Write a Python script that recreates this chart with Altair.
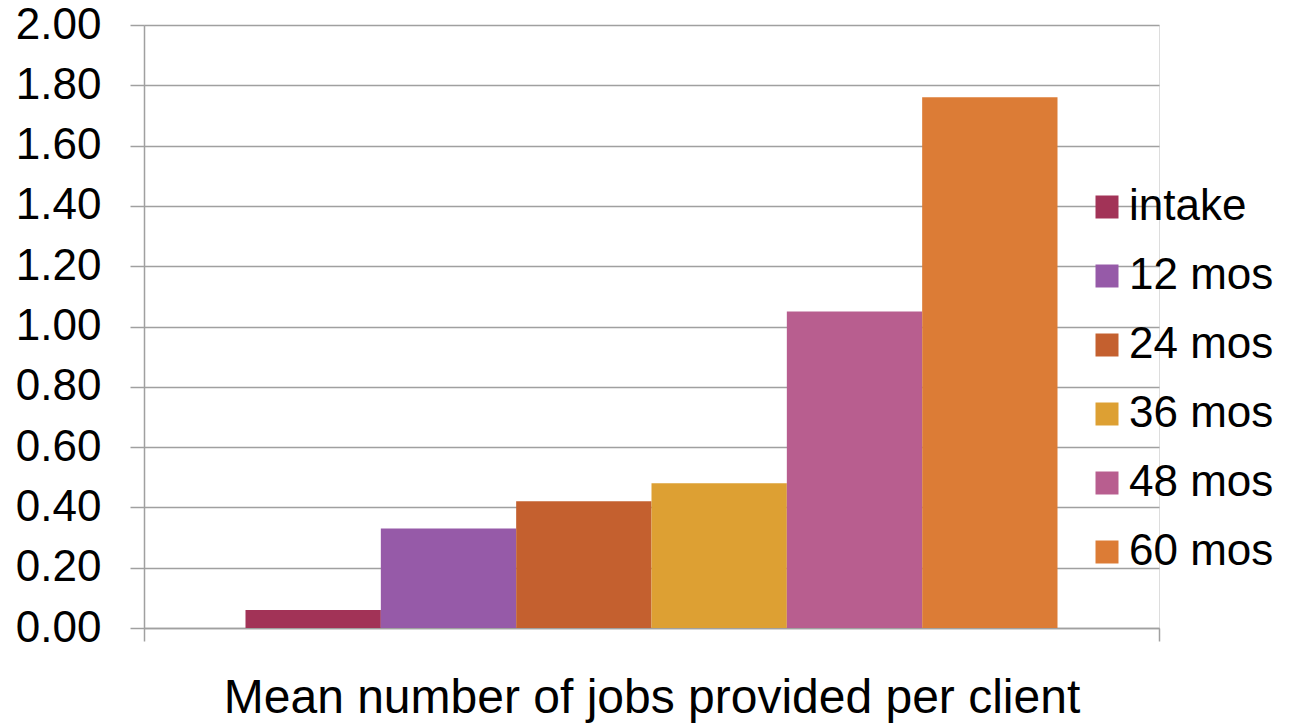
import altair as alt
import pandas as pd

series = ["intake", "12 mos", "24 mos", "36 mos", "48 mos", "60 mos"]
values = [0.06, 0.33, 0.42, 0.48, 1.05, 1.76]
colors = ["#A23357", "#965AA8", "#C4602F", "#DDA033", "#B85E8F", "#DC7C36"]
category = "Mean number of jobs provided per client"

df = pd.DataFrame({"cat": [category] * len(series), "series": series, "value": values})

FONT = "Liberation Sans"

chart = alt.Chart(df).mark_bar().encode(
    x=alt.X("cat:N", title=category,
            scale=alt.Scale(paddingInner=0, paddingOuter=0),
            axis=alt.Axis(labels=False, tickBand="extent", tickSize=13, tickColor="#A0A0A0",
                          tickWidth=1.5, domainColor="#A0A0A0", domainWidth=1.5,
                          titleFontSize=48, titleFont=FONT, titleFontWeight="normal",
                          titleColor="#000000", titlePadding=33)),
    xOffset=alt.XOffset("series:N", sort=series,
                        scale=alt.Scale(paddingInner=0, paddingOuter=0.75)),
    y=alt.Y("value:Q", title=None,
            scale=alt.Scale(domain=[0, 2]),
            axis=alt.Axis(values=[0, 0.2, 0.4, 0.6, 0.8, 1.0, 1.2, 1.4, 1.6, 1.8, 2.0],
                          format=".2f", tickSize=14, tickColor="#A0A0A0", tickWidth=1.5,
                          gridColor="#A0A0A0", gridWidth=1.5,
                          domainColor="#A0A0A0", domainWidth=1.5,
                          labelFontSize=44, labelFont=FONT, labelColor="#000000",
                          labelPadding=29)),
    color=alt.Color("series:N", sort=series, title=None,
                    scale=alt.Scale(domain=series, range=colors),
                    legend=alt.Legend(orient="none", legendX=941, legendY=160,
                                      symbolType="square", symbolSize=529,
                                      symbolStrokeWidth=0, labelFontSize=44,
                                      labelFont=FONT, labelColor="#000000",
                                      labelLimit=300,
                                      rowPadding=25, labelOffset=0)),
).properties(
    width=1015, height=603,
    autosize=alt.AutoSizeParams(type="none"),
    padding={"left": 144, "top": 25, "right": 130, "bottom": 98},
).configure_view(stroke=None).configure(background="white")

chart.save("out.html", embed_options={"renderer": "svg", "actions": False})
